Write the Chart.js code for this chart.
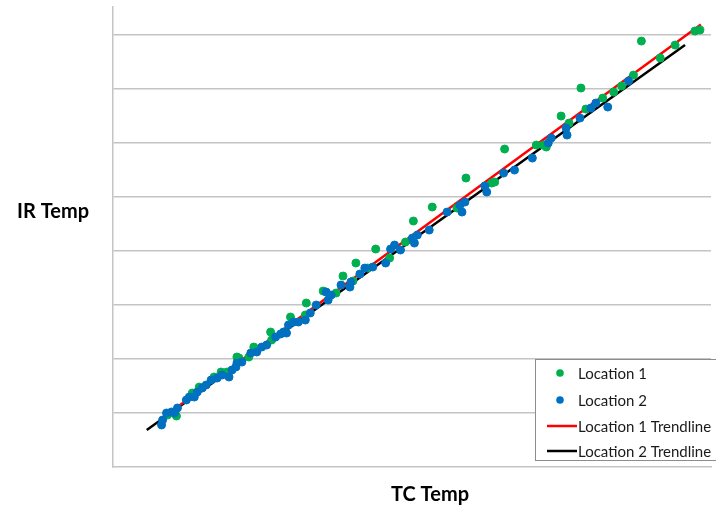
<!DOCTYPE html>
<html>
<head>
<meta charset="utf-8">
<script src="https://cdn.jsdelivr.net/npm/chart.js@4/dist/chart.umd.min.js"></script>
<style>
    html, body { margin: 0; padding: 0; background: #ffffff; }
    #wrap { width: 716px; height: 510px; }
</style>
</head>
<body>
<div id="wrap"><canvas id="chart" width="716" height="510"></canvas></div>
<script>
(function() {
    'use strict';

    // --- Data ---
    const seriesNames = ['Location 1', 'Location 2', 'Location 1 Trendline', 'Location 2 Trendline'];
    const xTitle = 'TC Temp';
    const yTitle = 'IR Temp';

    // Location 1 (green)
    const loc1X = [10.19, 11.85, 14.81, 16.11, 18.89, 20.19, 21.30, 23.15, 23.52, 25.37,
        26.30, 29.63, 29.44, 33.15, 35.93, 36.11, 39.26, 41.67, 42.96, 44.81,
        45.37, 47.59, 49.07, 51.67, 54.63, 56.11, 59.63, 64.26, 65.93, 70.74,
        71.30, 73.15, 79.07, 80.37, 80.93, 83.70, 85.19, 87.41, 88.33, 91.48,
        93.52, 95.00, 97.22, 98.70, 102.22, 105.00, 108.70, 109.63];
    const loc1Y = [9.63, 9.44, 13.70, 14.81, 16.67, 17.59, 17.59, 20.37, 20.19, 20.37,
        22.22, 23.52, 25.00, 27.78, 28.15, 30.37, 32.59, 32.22, 35.37, 34.44,
        37.78, 36.85, 40.37, 38.70, 41.67, 45.56, 48.15, 47.96, 53.52, 52.59,
        52.78, 58.89, 59.63, 59.63, 59.26, 65.00, 63.70, 70.19, 66.30, 68.33,
        69.44, 70.56, 72.59, 78.89, 75.74, 78.15, 80.74, 80.93];

    // Location 2 (blue)
    const loc2X = [9.07, 9.26, 10.00, 10.93, 11.48, 12.04, 13.70, 14.26, 15.19, 15.74,
        16.67, 17.41, 18.33, 19.44, 20.37, 21.67, 22.22, 22.96, 23.15, 24.07,
        25.74, 26.85, 27.78, 28.70, 30.37, 31.30, 31.85, 32.41, 32.78, 33.70,
        34.63, 35.93, 36.85, 37.96, 39.81, 40.19, 40.74, 42.59, 44.26, 44.44,
        46.11, 47.04, 48.52, 50.93, 51.85, 52.59, 53.70, 55.93, 56.30, 56.85,
        59.07, 62.41, 64.81, 65.19, 65.74, 69.44, 69.81, 72.96, 75.00, 78.33,
        81.30, 81.85, 84.63, 84.81, 87.22, 89.26, 90.19, 92.41, 96.30];
    const loc2Y = [7.78, 8.70, 10.00, 10.19, 10.00, 10.93, 12.41, 12.96, 12.96, 13.89,
        14.63, 15.19, 16.11, 16.48, 17.04, 16.67, 17.96, 18.52, 19.26, 19.44,
        21.11, 21.30, 22.22, 22.59, 24.07, 24.63, 25.00, 24.81, 26.30, 26.85,
        26.85, 27.22, 28.52, 30.00, 32.41, 30.93, 31.85, 33.70, 33.33, 34.26,
        35.74, 36.85, 37.04, 37.78, 40.37, 41.11, 40.19, 42.41, 41.48, 42.96,
        43.89, 47.22, 48.52, 47.22, 49.07, 52.04, 50.93, 54.44, 55.00, 57.22,
        60.00, 60.93, 62.78, 61.48, 64.63, 66.48, 67.41, 66.67, 71.48];

    // Trendline end points
    const trend1X = [8.70, 109.81];
    const trend1Y = [8.69, 81.98];
    const trend2X = [6.30, 106.85];
    const trend2Y = [6.85, 78.15];

    // Axis ranges
    const xMax = 111.7;
    const yMax = 85.2;
    const yStep = 10;

    const colors = ['#00b050', '#0070c0', '#ff0000', '#000000'];
    const gridColor = '#c4c4c4';

    const toPoints = (xs, ys) => xs.map((x, i) => ({ x: x, y: ys[i] }));

    // --- Plugin: axis titles (y title is horizontal) and boxed legend ---
    const decorations = {
        id: 'decorations',
        afterDraw: (chart) => {
            const ctx = chart.ctx;
            ctx.save();

            // axis titles
            ctx.fillStyle = '#000000';
            ctx.font = 'bold 20px Lato, "Open Sans", sans-serif';
            ctx.textAlign = 'center';
            ctx.textBaseline = 'middle';
            ctx.fillText(yTitle, 53, 212);
            ctx.fillText(xTitle, 430, 495);

            // legend box, its right edge runs off the canvas like the reference
            const box = { left: 535, top: 359, right: 722, bottom: 460 };
            ctx.fillStyle = '#ffffff';
            ctx.fillRect(box.left, box.top, box.right - box.left, box.bottom - box.top);
            ctx.strokeStyle = '#8c8c8c';
            ctx.lineWidth = 1;
            ctx.strokeRect(box.left + 0.5, box.top + 0.5, box.right - box.left, box.bottom - box.top);

            const rows = [373, 400, 426, 451];
            ctx.font = '15px Lato, "Open Sans", sans-serif';
            ctx.textAlign = 'left';
            chart.data.datasets.forEach((ds, i) => {
                const y = rows[i];
                if (ds.type === 'line') {
                    ctx.strokeStyle = ds.borderColor;
                    ctx.lineWidth = 2.5;
                    ctx.beginPath();
                    ctx.moveTo(547, y);
                    ctx.lineTo(577, y);
                    ctx.stroke();
                } else {
                    ctx.fillStyle = ds.backgroundColor;
                    ctx.beginPath();
                    ctx.arc(560, y, 3.8, 0, Math.PI * 2);
                    ctx.fill();
                }
                ctx.fillStyle = '#1a1a1a';
                ctx.fillText(ds.label, 578, y + 1);
            });
            ctx.restore();
        }
    };

    new Chart(document.getElementById('chart').getContext('2d'), {
        type: 'scatter',
        data: {
            datasets: [
                {
                    label: seriesNames[0],
                    data: toPoints(loc1X, loc1Y),
                    backgroundColor: colors[0],
                    borderColor: colors[0],
                    pointRadius: 4,
                    order: 1
                },
                {
                    label: seriesNames[1],
                    data: toPoints(loc2X, loc2Y),
                    backgroundColor: colors[1],
                    borderColor: colors[1],
                    pointRadius: 4,
                    order: 0
                },
                {
                    type: 'line',
                    label: seriesNames[2],
                    data: toPoints(trend1X, trend1Y),
                    borderColor: colors[2],
                    borderWidth: 2.5,
                    pointRadius: 0,
                    fill: false,
                    order: 2
                },
                {
                    type: 'line',
                    label: seriesNames[3],
                    data: toPoints(trend2X, trend2Y),
                    borderColor: colors[3],
                    borderWidth: 2.5,
                    pointRadius: 0,
                    fill: false,
                    order: 3
                }
            ]
        },
        options: {
            responsive: false,
            animation: false,
            layout: { padding: { left: 113, top: 7, right: 0, bottom: 43 } },
            plugins: {
                legend: { display: false },
                tooltip: { enabled: false }
            },
            scales: {
                x: {
                    type: 'linear',
                    min: 0,
                    max: xMax,
                    ticks: { display: false },
                    grid: { display: false, drawTicks: false },
                    border: { display: true, color: gridColor, width: 1.5 }
                },
                y: {
                    type: 'linear',
                    min: 0,
                    max: yMax,
                    ticks: { display: false, stepSize: yStep },
                    grid: {
                        drawTicks: false,
                        lineWidth: 1.5,
                        color: (c) => (c.tick && c.tick.value > 0 && c.tick.value % yStep === 0) ? gridColor : 'rgba(0,0,0,0)'
                    },
                    border: { display: true, color: gridColor, width: 1.5 }
                }
            }
        },
        plugins: [decorations]
    });
})();
</script>
</body>
</html>
